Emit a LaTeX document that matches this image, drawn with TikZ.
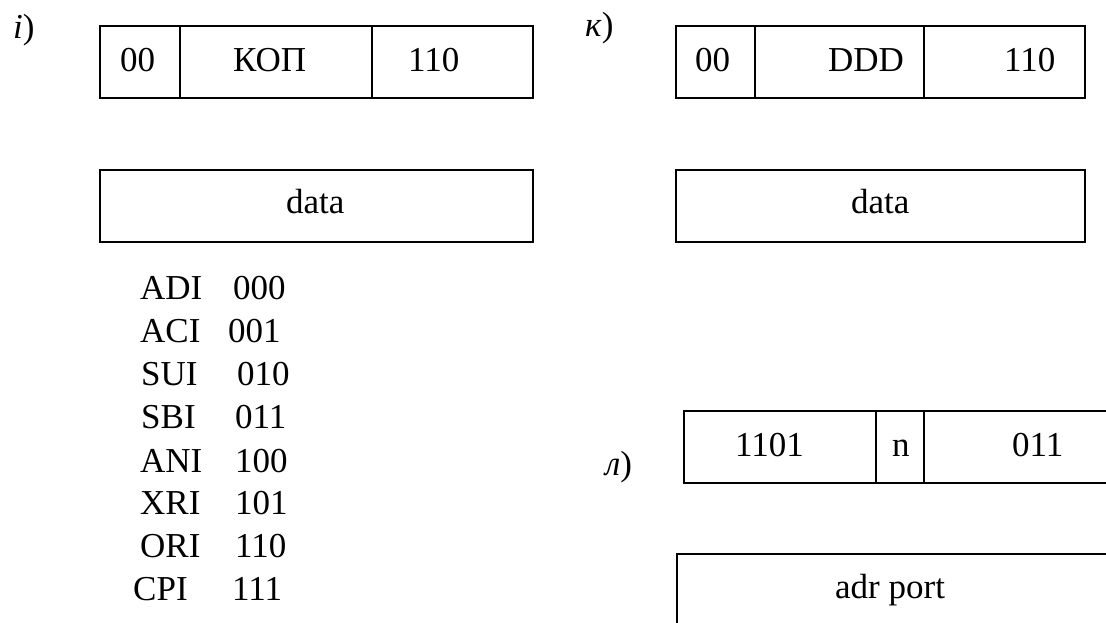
\documentclass[tikz,border=0pt]{standalone}
\usepackage{fontspec}
\setmainfont{Liberation Serif}
\begin{document}
\begin{tikzpicture}[x=1pt,y=-1pt,
  cell/.style={draw, line width=1.6pt, inner sep=0pt, anchor=north west},
  thick cell/.style={cell, line width=2.2pt},
  txt/.style={anchor=base west, inner sep=0pt, font=\fontsize{35}{42}\selectfont}]
\useasboundingbox (0,0) rectangle (1106,622);
\clip (0,0) rectangle (1106,622);

% --- format i): 00 | KOP | 110, followed by the data byte
\node[txt] (tagI) at (13,38) {\textit{i})};
\node[cell, minimum width=80pt,  minimum height=72pt] (i1) at (99,25) {};
\node[cell, minimum width=192pt, minimum height=72pt] (i2) at (179,25) {};
\node[cell, minimum width=161pt, minimum height=72pt] (i3) at (371,25) {};
\node[txt] (i1t) at (120,71) {00};
\node[txt] (i2t) at (233,71) {КОП};
\node[txt] (i3t) at (408,71) {110};
\node[cell, minimum width=433pt, minimum height=72pt] (idata) at (99,169) {};
\node[txt] (idatat) at (286,213) {data};

% opcode table
\node[txt] (c1n) at (140,299) {ADI}; \node[txt] (c1v) at (233,299) {000};
\node[txt] (c2n) at (140,342) {ACI}; \node[txt] (c2v) at (228,342) {001};
\node[txt] (c3n) at (141,385) {SUI}; \node[txt] (c3v) at (237,385) {010};
\node[txt] (c4n) at (141,428) {SBI}; \node[txt] (c4v) at (235,428) {011};
\node[txt] (c5n) at (140,472) {ANI}; \node[txt] (c5v) at (235,472) {100};
\node[txt] (c6n) at (140,514) {XRI}; \node[txt] (c6v) at (235,514) {101};
\node[txt] (c7n) at (140,557) {ORI}; \node[txt] (c7v) at (235,557) {110};
\node[txt] (c8n) at (133,600) {CPI}; \node[txt] (c8v) at (232,600) {111};

% --- format k): 00 | DDD | 110, followed by the data byte
\node[txt] (tagK) at (585,36) {\textit{к})};
\node[cell, minimum width=79pt,  minimum height=72pt] (k1) at (675,25) {};
\node[cell, minimum width=169pt, minimum height=72pt] (k2) at (754,25) {};
\node[cell, minimum width=161pt, minimum height=72pt] (k3) at (923,25) {};
\node[txt] (k1t) at (695,71) {00};
\node[txt] (k2t) at (828,71) {DDD};
\node[txt] (k3t) at (1004,71) {110};
\node[cell, minimum width=409pt, minimum height=72pt] (kdata) at (675,169) {};
\node[txt] (kdatat) at (851,213) {data};

% --- format l): 1101 | n | 011, followed by the port address
\node[txt] (tagL) at (605,475) {\textit{л})};
\node[thick cell, minimum width=192pt, minimum height=72pt] (l1) at (683,410) {};
\node[thick cell, minimum width=48pt,  minimum height=72pt] (l2) at (875,410) {};
\node[thick cell, minimum width=200pt, minimum height=72pt] (l3) at (923,410) {};
\node[txt] (l1t) at (735,456) {1101};
\node[txt] (l2t) at (892,456) {n};
\node[txt] (l3t) at (1012,456) {011};
\node[thick cell, minimum width=440pt, minimum height=100pt] (ladr) at (676,553) {};
\node[txt] (ladrt) at (835,598) {adr port};
\end{tikzpicture}
\end{document}
